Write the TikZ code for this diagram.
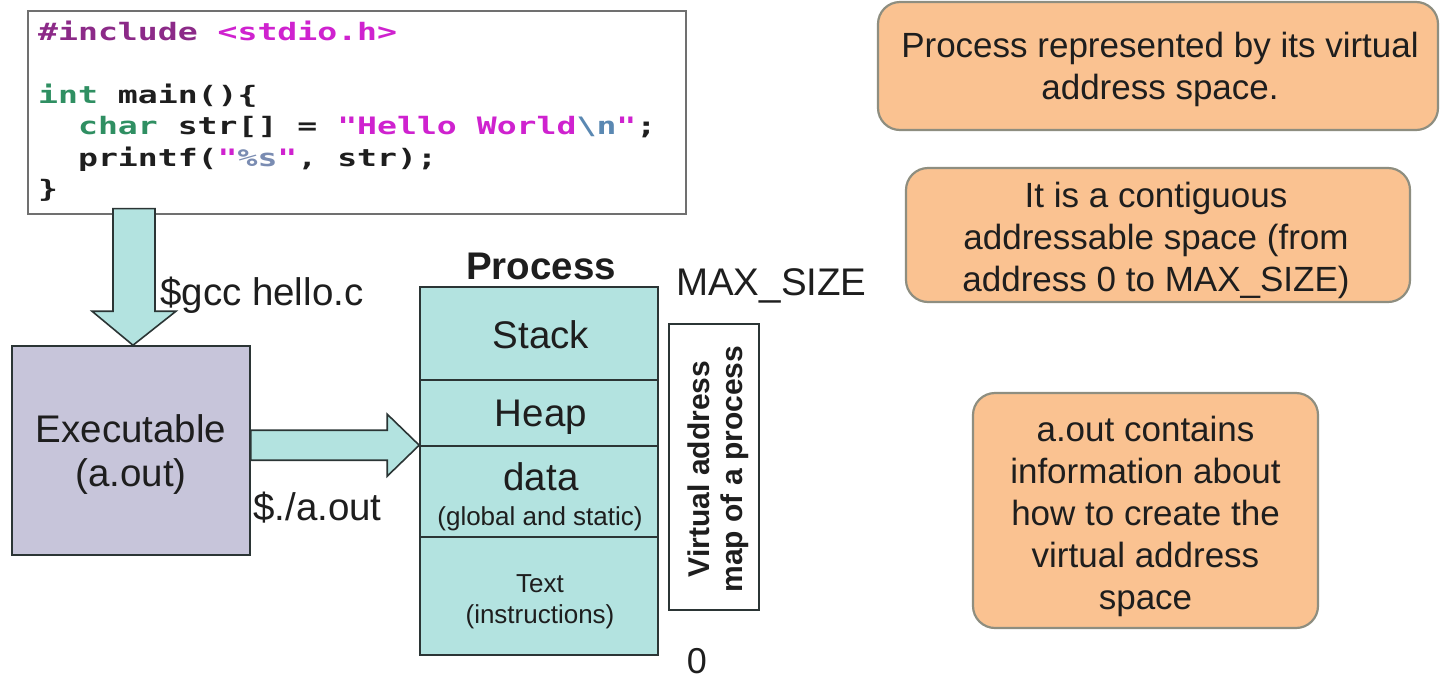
\documentclass[tikz,border=0pt]{standalone}
\usepackage{fontspec}
\setmainfont{Liberation Sans}
\newfontfamily\codefont{DejaVu Sans Mono}
\usetikzlibrary{calc}

\definecolor{ink}{HTML}{1E1E1E}
\definecolor{edge}{HTML}{2B3535}
\definecolor{segfill}{HTML}{B3E3E0}
\definecolor{exefill}{HTML}{C7C5DA}
\definecolor{notefill}{HTML}{FAC291}
\definecolor{notebd}{HTML}{8E8E80}
\definecolor{codebd}{HTML}{707070}
\definecolor{ppdir}{HTML}{8C2A88}
\definecolor{strlit}{HTML}{CF22CF}
\definecolor{kword}{HTML}{2F8F62}
\definecolor{escch}{HTML}{5A88B2}
\definecolor{fmtch}{HTML}{7A8CB2}

\newcommand{\bigtxt}{\fontsize{38.5}{43.5}\selectfont}
\newcommand{\smalltxt}{\fontsize{26}{31}\selectfont}

\begin{document}
\begin{tikzpicture}[x=1pt,y=-1pt,
  lbl/.style={text=ink, inner sep=0},
  seg/.style={draw=edge, line width=1.6, fill=segfill, minimum width=238, inner sep=0},
  note/.style={draw=notebd, line width=2.2, fill=notefill, rounded corners=22, inner sep=0},
  notetext/.style={align=center, text=ink, inner sep=0, font=\fontsize{35}{42}\selectfont},
  blockarrow/.style={draw=edge, line width=1.6, fill=segfill, line join=miter}]

\path[use as bounding box, fill=white] (0,0) rectangle (1443,681);

% source file
\node[draw=codebd, line width=1.6, fill=white, anchor=north west,
      minimum width=658, minimum height=203, inner sep=0] (src) at (27,10) {};
\node[anchor=north west, inner sep=0, text=ink,
      font={\codefont\bfseries\fontsize{24}{31.5}\selectfont}] (code) at (38,18)
  {\scalebox{1.38}[1]{\begin{tabular}{@{}l@{}}
    {\color{ppdir}\#include} {\color{strlit}<stdio.h>}\\
    \\
    {\color{kword}int} main()\{\\
    \hphantom{xx}{\color{kword}char} str[] = {\color{strlit}"Hello World}{\color{escch}\textbackslash n}{\color{strlit}"};\\
    \hphantom{xx}printf({\color{strlit}"}{\color{fmtch}\%s}{\color{strlit}"}, str);\\
    \}
  \end{tabular}}};

% executable
\node[draw=edge, line width=1.6, fill=exefill, minimum width=238, minimum height=209,
      inner sep=0] (exe) at (131,450.5) {};
\node[lbl, align=center, font=\bigtxt] (exelbl) at ($(exe.center)+(0,4)$)
  {Executable\\(a.out)};

% process address space
\node[seg, minimum height=93]  (stack) at (539,333.5) {};
\node[seg, minimum height=66]  (heap)  at (539,413) {};
\node[seg, minimum height=91]  (data)  at (539,491.5) {};
\node[seg, minimum height=118] (text)  at (539,596) {};

\node[lbl, anchor=base, font=\bigtxt\bfseries] (ptitle) at (541,279) {Process};
\node[lbl, anchor=base, font=\bigtxt] (lstack) at (541,348) {Stack};
\node[lbl, anchor=base, font=\bigtxt] (lheap)  at (541,426) {Heap};
\node[lbl, anchor=base, font=\bigtxt] (ldata)  at (541,490) {data};
\node[lbl, anchor=base, font=\smalltxt] (ldata2) at (540,525) {(global and static)};
\node[lbl, anchor=base, font=\smalltxt] (ltext)  at (540,592) {Text};
\node[lbl, anchor=base, font=\smalltxt] (ltext2) at (540,623) {(instructions)};

% address range
\node[lbl, anchor=base west, font=\bigtxt] (maxsz) at (676,295) {MAX\_SIZE};
\node[lbl, anchor=base, font=\fontsize{36}{40}\selectfont] (zero) at (697,673) {0};
\node[draw=edge, line width=1.6, fill=white, minimum width=90, minimum height=286,
      inner sep=0] (vabox) at (714,467) {};
\node[lbl, rotate=90, align=center, font=\fontsize{30}{33.5}\selectfont\bfseries]
  (valbl) at (718,469) {Virtual address\\map of a process};

% block arrows
\coordinate (dtip) at ([xshift=2]exe.north);
\coordinate (rtip) at (data.north west);
\draw[blockarrow] ($(dtip |- src.south)+(-20,-6)$) -- ($(dtip |- src.south)+(22,-6)$)
  -- ($(dtip)+(22,-34)$) -- ($(dtip)+(43,-34)$) -- (dtip)
  -- ($(dtip)+(-41,-34)$) -- ($(dtip)+(-20,-34)$) -- cycle;
\draw[blockarrow] ($(exe.east |- rtip)+(0,-15)$) -- ($(rtip)+(-32,-15)$)
  -- ($(rtip)+(-32,-31)$) -- (rtip) -- ($(rtip)+(-32,31)$)
  -- ($(rtip)+(-32,15)$) -- ($(exe.east |- rtip)+(0,15)$) -- cycle;

\node[lbl, anchor=base west, font=\bigtxt] (gcc) at (160,305) {\$gcc hello.c};
\node[lbl, anchor=base west, font=\bigtxt] (run) at (253,520) {\$./a.out};

% remarks
\node[note, minimum width=560, minimum height=128] (n1) at (1158,66) {};
\node[notetext] (t1) at ($(n1.center)+(2,3)$)
  {Process represented by its virtual\\address space.};
\node[note, minimum width=504, minimum height=134] (n2) at (1158,235) {};
\node[notetext] (t2) at ($(n2.center)+(-2,5)$)
  {It is a contiguous\\addressable space (from\\address 0 to MAX\_SIZE)};
\node[note, minimum width=345, minimum height=235] (n3) at (1145.5,510.5) {};
\node[notetext] (t3) at ($(n3.center)+(0,6)$)
  {a.out contains\\information about\\how to create the\\virtual address\\space};
\end{tikzpicture}
\end{document}
